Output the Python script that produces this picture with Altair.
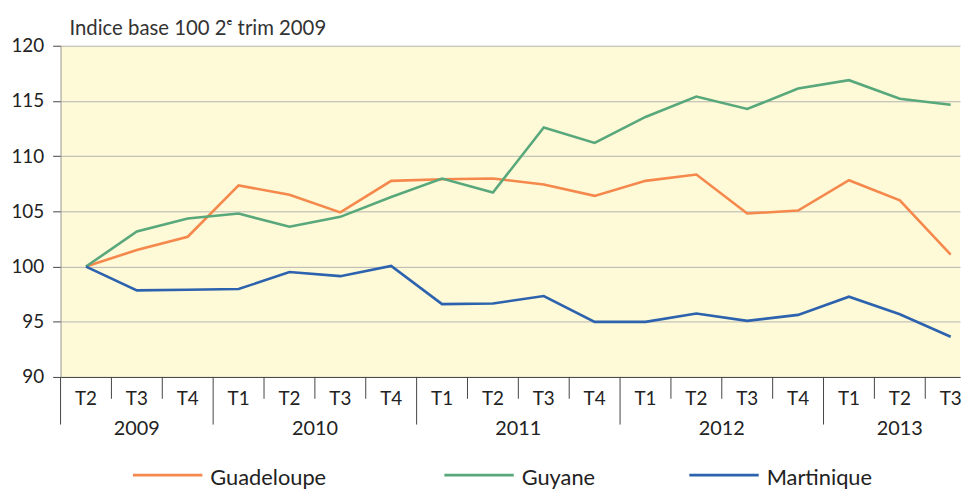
import altair as alt
import pandas as pd

# ---- data ----
quarters = ["T2", "T3", "T4",
            "T1", "T2", "T3", "T4",
            "T1", "T2", "T3", "T4",
            "T1", "T2", "T3", "T4",
            "T1", "T2", "T3"]
years = [2009] * 3 + [2010] * 4 + [2011] * 4 + [2012] * 4 + [2013] * 3

guadeloupe = [100.0, 101.5, 102.7, 107.35, 106.5, 104.9, 107.76, 107.9, 107.97,
              107.43, 106.4, 107.76, 108.33, 104.8, 105.07, 107.82, 106.0, 101.08]
guyane = [100.0, 103.17, 104.35, 104.8, 103.6, 104.5, 106.3, 107.97, 106.7,
          112.6, 111.2, 113.55, 115.4, 114.27, 116.12, 116.88, 115.2, 114.66]
martinique = [100.0, 97.84, 97.9, 97.96, 99.5, 99.13, 100.06, 96.6, 96.65,
              97.33, 94.99, 94.99, 95.75, 95.08, 95.62, 97.27, 95.68, 93.64]

series_names = ["Guadeloupe", "Guyane", "Martinique"]
series_colors = ["#F5884C", "#58A87C", "#2C62AE"]
y_ticks = [90, 95, 100, 105, 110, 115, 120]
title_text = "Indice base 100 2ᵉ trim 2009"

# ---- layout (pixels) ----
W, H = 907, 334
BAND = 51.29
legend_x = [73, 387, 634]      # left end of each legend line, from plot left
LEGEND_LINE = 70
LEGEND_Y = 433

# ---- tables built from the arrays ----
rows = []
for i, (q, yr) in enumerate(zip(quarters, years)):
    for name, vals in zip(series_names, [guadeloupe, guyane, martinique]):
        rows.append({"idx": i, "quarter": q, "year": yr, "serie": name, "value": vals[i]})
df = pd.DataFrame(rows)

qdf = pd.DataFrame({"idx": list(range(len(quarters))), "quarter": quarters, "year": years})

ticks = []
for i in range(len(quarters) + 1):
    long_tick = i == 0 or i == len(quarters) or years[i] != years[i - 1]
    ticks.append({"pos": i - 0.5, "long": long_tick})
tdf = pd.DataFrame(ticks)

ydf = qdf.groupby("year", as_index=False)["idx"].mean()
ydf["label"] = ydf["year"].astype(str)

ldf = pd.DataFrame({"serie": series_names,
                    "x0": legend_x,
                    "x1": [x + LEGEND_LINE for x in legend_x],
                    "xt": [x + LEGEND_LINE + 8 for x in legend_x]})

xscale = alt.Scale(domain=[-0.5, -0.5 + W / BAND], nice=False, zero=False)
yscale = alt.Scale(domain=[90, 120], nice=False, zero=False)
cscale = alt.Scale(domain=series_names, range=series_colors)

lines = alt.Chart(df).mark_line(strokeWidth=2.6).encode(
    x=alt.X("idx:Q", scale=xscale,
            axis=alt.Axis(labels=False, ticks=False, grid=False, title=None,
                          domainColor="#444444", domainWidth=1)),
    y=alt.Y("value:Q", scale=yscale,
            axis=alt.Axis(values=y_ticks, title=None, tickSize=8, labelPadding=9,
                          labelFontSize=19, labelColor="#222222", tickColor="#444444",
                          domainColor="#9a9a9a", gridColor="#b4b4b4", gridWidth=1)),
    color=alt.Color("serie:N", scale=cscale, legend=None),
)

short_ticks = alt.Chart(tdf).transform_filter("!datum.long").mark_rule(
    color="#444444", strokeWidth=1).encode(
    x=alt.X("pos:Q", scale=xscale), y=alt.value(H), y2=alt.value(H + 22))

long_ticks = alt.Chart(tdf).transform_filter("datum.long").mark_rule(
    color="#444444", strokeWidth=1).encode(
    x=alt.X("pos:Q", scale=xscale), y=alt.value(H), y2=alt.value(H + 48))

q_labels = alt.Chart(qdf).mark_text(fontSize=19, color="#222222", baseline="middle").encode(
    x=alt.X("idx:Q", scale=xscale), y=alt.value(H + 22), text="quarter:N")

y_labels = alt.Chart(ydf).mark_text(fontSize=20, color="#222222", baseline="middle").encode(
    x=alt.X("idx:Q", scale=xscale), y=alt.value(H + 53), text="label:N")

title_mark = alt.Chart(pd.DataFrame({"t": [title_text]})).mark_text(
    fontSize=20.5, color="#333333", align="left", baseline="alphabetic").encode(
    x=alt.value(9), y=alt.value(-11), text="t:N")

legend_lines = alt.Chart(ldf).mark_rule(strokeWidth=2.8).encode(
    x=alt.X("x0:Q", scale=None), x2="x1:Q",
    y=alt.value(LEGEND_Y), y2=alt.value(LEGEND_Y),
    color=alt.Color("serie:N", scale=cscale, legend=None))

legend_text = alt.Chart(ldf).mark_text(fontSize=22, color="#222222", align="left",
                                       baseline="middle").encode(
    x=alt.X("xt:Q", scale=None), y=alt.value(LEGEND_Y + 3), text="serie:N")

chart = alt.layer(lines, short_ticks, long_ticks, q_labels, y_labels, title_mark,
                  legend_lines, legend_text).properties(
    width=W, height=H,
    autosize=alt.AutoSizeParams(type="none"),
    padding={"left": 53, "top": 36, "right": 4, "bottom": 118},
).configure(font="Lato").configure_view(fill="#FEF9D6", stroke=None)

chart.save("out.html", embed_options={"renderer": "svg", "actions": False})
